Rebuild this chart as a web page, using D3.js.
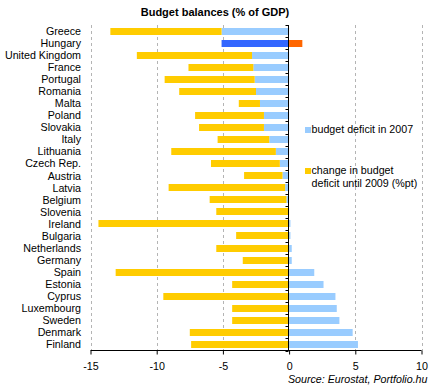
<!DOCTYPE html>
<html><head><meta charset="utf-8">
<script src="https://cdn.jsdelivr.net/npm/d3@7"></script>
<style>body{margin:0;background:#fff;} svg{display:block;font-family:Arial,"Liberation Sans",sans-serif;}</style>
</head><body>
<script>
const countries = ["Greece","Hungary","United Kingdom","France","Portugal","Romania","Malta","Poland","Slovakia","Italy","Lithuania","Czech Rep.","Austria","Latvia","Belgium","Slovenia","Ireland","Bulgaria","Netherlands","Germany","Spain","Estonia","Cyprus","Luxembourg","Sweden","Denmark","Finland"];
const deficit2007 = [-5.1,-5.1,-2.8,-2.7,-2.6,-2.5,-2.2,-1.9,-1.9,-1.5,-1.0,-0.7,-0.5,-0.3,-0.2,0.0,0.1,0.1,0.2,0.2,1.9,2.6,3.5,3.6,3.8,4.8,5.2];
const change2009 = [-8.4,1.0,-8.7,-4.9,-6.8,-5.8,-1.6,-5.2,-4.9,-3.9,-7.9,-5.2,-2.9,-8.8,-5.8,-5.5,-14.4,-4.0,-5.5,-3.5,-13.1,-4.3,-9.5,-4.3,-4.3,-7.5,-7.4];
const xTicks = [-15,-10,-5,0,5,10];
const seriesNames = ["budget deficit in 2007","change in budget|deficit until 2009 (%pt)"];
const highlight = "Hungary";

const W=432,H=391;
const svg=d3.select("body").append("svg").attr("width",W).attr("height",H);
const x=d3.scaleLinear().domain([-15,10]).range([90.5,421.5]);
const y=d3.scaleBand().domain(countries).range([25,350.5]).paddingInner(0.42).paddingOuter(0.21);

const rows=countries.map((c,i)=>({country:c,deficit:deficit2007[i],change:change2009[i]}));
const stack=d3.stack().keys(["deficit","change"]).offset(d3.stackOffsetDiverging)(rows);
const colors={deficit:"#99ccff",change:"#ffcc00"};
const hiColors={deficit:"#3366ff",change:"#ff6600"};

// grid
svg.append("g").selectAll("line").data(xTicks.filter(t=>t!==0)).join("line")
  .attr("x1",d=>Math.round(x(d))+0.5).attr("x2",d=>Math.round(x(d))+0.5)
  .attr("y1",25).attr("y2",350.5)
  .attr("stroke","#b4b4b4").attr("stroke-dasharray","3,3");

// title
svg.append("text").attr("x",215).attr("y",16).attr("text-anchor","middle")
  .attr("font-weight","bold").attr("font-size","11px").text("Budget balances (% of GDP)");

// bars
svg.append("g").selectAll("g").data(stack).join("g")
  .each(function(s){
    d3.select(this).selectAll("rect").data(s).join("rect")
      .attr("x",d=>x(Math.min(d[0],d[1])))
      .attr("width",d=>Math.abs(x(d[1])-x(d[0])))
      .attr("y",d=>Math.round(y(d.data.country)))
      .attr("height",7)
      .attr("fill",d=>d.data.country===highlight?hiColors[s.key]:colors[s.key]);
  });

// y axis at 0
const x0=Math.round(x(0))-0.5;
svg.append("line").attr("x1",x0).attr("x2",x0).attr("y1",25).attr("y2",351).attr("stroke","#000");
const bounds=countries.map(c=>y(c)-y.step()*y.paddingInner()/2);
bounds.push(350.5);
svg.append("g").selectAll("line").data(bounds).join("line")
  .attr("x1",x0-3).attr("x2",x0).attr("y1",d=>Math.round(d)+0.5).attr("y2",d=>Math.round(d)+0.5).attr("stroke","#000");

// category labels
svg.append("g").selectAll("text").data(countries).join("text")
  .attr("x",81).attr("y",d=>y(d)+y.bandwidth()/2).attr("dy","0.36em")
  .attr("text-anchor","end").attr("font-size","10.7px").text(d=>d);

// x axis
const xa=svg.append("g").attr("transform","translate(0,350.5)")
  .call(d3.axisBottom(x).tickValues(xTicks).tickSize(4).tickFormat(d3.format("d")));
xa.select(".domain").attr("stroke","#000").attr("d","M90.5,0H421.5");
xa.selectAll(".tick line").attr("stroke","#000");
xa.selectAll(".tick text").attr("font-size","10.7px").attr("font-family","Arial,'Liberation Sans',sans-serif").attr("fill","#000").attr("y",12).attr("dy","0.71em").text(d=>d<0?"-"+Math.abs(d):d);

// legend
const leg=svg.append("g");
leg.append("rect").attr("x",305).attr("y",127).attr("width",6).attr("height",6).attr("fill",colors.deficit);
leg.append("text").attr("x",311.5).attr("y",133).attr("font-size","10.7px").text(seriesNames[0]);
leg.append("rect").attr("x",305).attr("y",168).attr("width",6).attr("height",6).attr("fill",colors.change);
const l2=seriesNames[1].split("|");
leg.append("text").attr("x",311.5).attr("y",174).attr("font-size","10.7px").text(l2[0]);
leg.append("text").attr("x",311.5).attr("y",187.3).attr("font-size","10.7px").text(l2[1]);

// source
svg.append("text").attr("x",427.5).attr("y",383).attr("text-anchor","end").attr("font-style","italic")
  .attr("font-size","10.7px").text("Source: Eurostat, Portfolio.hu");
</script>
</body></html>
